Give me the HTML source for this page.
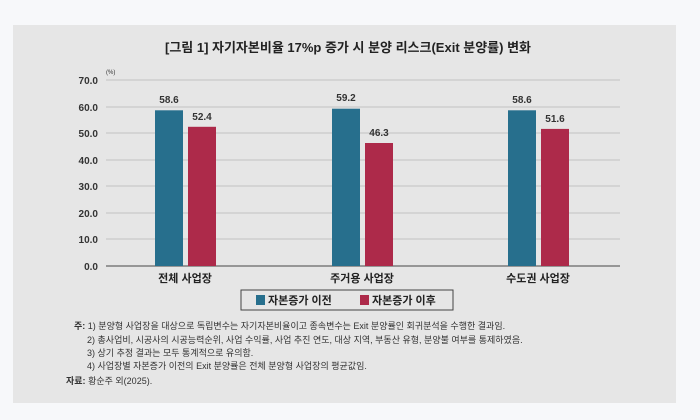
<!DOCTYPE html>
<html><head><meta charset="utf-8"><style>
body{margin:0;width:700px;height:420px;background:#f7f8fa;font-family:"Liberation Sans","Noto Sans CJK KR",sans-serif;overflow:hidden}
</style></head><body>
<svg width="700" height="420" xmlns="http://www.w3.org/2000/svg" style="position:absolute;left:0;top:0">
<rect x="13" y="25" width="663" height="378" fill="#e6e6e6"/>
<text x="348" y="52" text-anchor="middle" font-size="13" font-weight="bold" fill="#222" font-family="Liberation Sans, Noto Sans CJK KR, sans-serif">[그림 1] 자기자본비율 17%p 증가 시 분양 리스크(Exit 분양률) 변화</text>
<text x="106" y="74" font-size="6" fill="#333">(%)</text>
<g stroke="#c9c9c9" stroke-width="1.2">
<line x1="106" x2="620" y1="80" y2="80"/><line x1="106" x2="620" y1="107" y2="107"/><line x1="106" x2="620" y1="133" y2="133"/><line x1="106" x2="620" y1="160" y2="160"/><line x1="106" x2="620" y1="186" y2="186"/><line x1="106" x2="620" y1="213" y2="213"/><line x1="106" x2="620" y1="239" y2="239"/>
</g>
<line x1="106" x2="620" y1="266" y2="266" stroke="#666" stroke-width="1.2"/>
<g font-size="10" font-weight="bold" fill="#333" text-anchor="end">
<text x="98" y="84">70.0</text><text x="98" y="111">60.0</text><text x="98" y="137">50.0</text><text x="98" y="164">40.0</text><text x="98" y="190">30.0</text><text x="98" y="217">20.0</text><text x="98" y="243">10.0</text><text x="98" y="270">0.0</text>
</g>
<g fill="#276f8d">
<rect x="155" y="110.3" width="28" height="155.7"/><rect x="332" y="108.7" width="28" height="157.3"/><rect x="508" y="110.3" width="28" height="155.7"/>
</g>
<g fill="#ad2a4a">
<rect x="188" y="126.8" width="28" height="139.2"/><rect x="365" y="143" width="28" height="123"/><rect x="541" y="128.9" width="28" height="137.1"/>
</g>
<g font-size="10" font-weight="bold" fill="#333" text-anchor="middle">
<text x="169" y="103">58.6</text><text x="202" y="120">52.4</text>
<text x="346" y="101">59.2</text><text x="379" y="136">46.3</text>
<text x="522" y="103">58.6</text><text x="555" y="122">51.6</text>
</g>
<g font-size="11" font-weight="bold" fill="#222" text-anchor="middle">
<text x="185" y="282">전체 사업장</text><text x="362" y="282">주거용 사업장</text><text x="538" y="282">수도권 사업장</text>
</g>
<rect x="241" y="290" width="212" height="20" fill="none" stroke="#444" stroke-width="1"/>
<rect x="256" y="295" width="9" height="10" fill="#276f8d"/>
<text x="268" y="304" font-size="11" font-weight="bold" fill="#222">자본증가 이전</text>
<rect x="360" y="295" width="9" height="10" fill="#ad2a4a"/>
<text x="372" y="304" font-size="11" font-weight="bold" fill="#222">자본증가 이후</text>
<g font-size="9" fill="#333">
<text x="74" y="329"><tspan font-weight="bold">주:</tspan> 1) 분양형 사업장을 대상으로 독립변수는 자기자본비율이고 종속변수는 Exit 분양률인 회귀분석을 수행한 결과임.</text>
<text x="87" y="343">2) 총사업비, 시공사의 시공능력순위, 사업 수익률, 사업 추진 연도, 대상 지역, 부동산 유형, 분양불 여부를 통제하였음.</text>
<text x="87" y="356">3) 상기 추정 결과는 모두 통계적으로 유의함.</text>
<text x="87" y="369">4) 사업장별 자본증가 이전의 Exit 분양률은 전체 분양형 사업장의 평균값임.</text>
<text x="66" y="384"><tspan font-weight="bold">자료:</tspan> 황순주 외(2025).</text>
</g>
</svg>
</body></html>
